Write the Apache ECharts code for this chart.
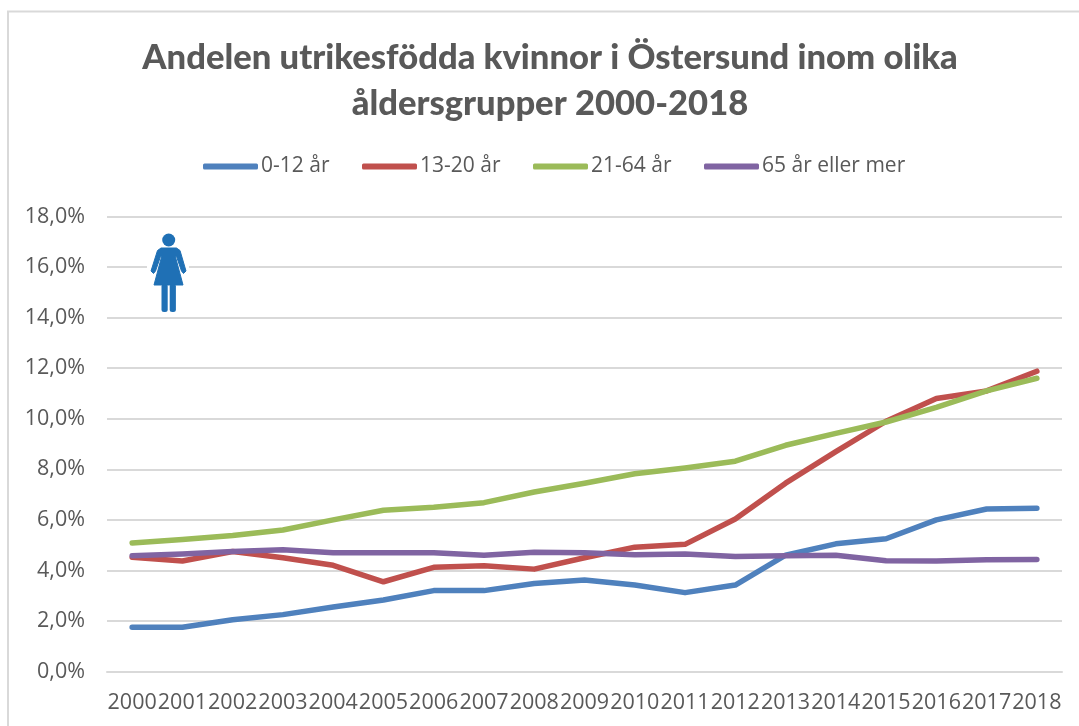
<!DOCTYPE html>
<html><head><meta charset="utf-8">
<style>html,body{margin:0;padding:0;background:#fff}#c{width:1079px;height:726px}</style>
<script src="https://cdn.jsdelivr.net/npm/echarts@6/dist/echarts.min.js"></script>
</head><body><div id="c"></div>
<script>
const years = ['2000','2001','2002','2003','2004','2005','2006','2007','2008','2009','2010','2011','2012','2013','2014','2015','2016','2017','2018'];
const age0to12 = [1.75,1.75,2.05,2.25,2.55,2.83,3.2,3.2,3.48,3.62,3.42,3.12,3.42,4.6,5.05,5.25,6.0,6.43,6.46];
const age13to20 = [4.52,4.37,4.75,4.5,4.2,3.55,4.12,4.18,4.05,4.5,4.92,5.03,6.03,7.45,8.7,9.9,10.8,11.1,11.88];
const age21to64 = [5.08,5.22,5.38,5.6,6.0,6.38,6.5,6.68,7.1,7.45,7.82,8.05,8.32,8.95,9.42,9.87,10.45,11.1,11.6];
const age65plus = [4.58,4.65,4.75,4.82,4.7,4.7,4.7,4.6,4.72,4.7,4.62,4.65,4.55,4.58,4.6,4.38,4.37,4.42,4.43];
const seriesNames = ['0-12 år','13-20 år','21-64 år','65 år eller mer'];
const seriesColors = ['#4f81bd','#c0504d','#9bbb59','#8064a2'];
const seriesData = [age0to12,age13to20,age21to64,age65plus];
const legendLefts = [203,362,533,704];
const labelFont = '"Open Sans", sans-serif';
const iconColor = '#1f70b5';
const chart = echarts.init(document.getElementById('c'),null,{renderer:'canvas'});
chart.setOption({
  animation:false,
  backgroundColor:'#fff',
  title:{text:'Andelen utrikesfödda kvinnor i Östersund inom olika\nåldersgrupper 2000-2018',left:545,textAlign:'center',top:30,
    textStyle:{fontFamily:'Lato',fontWeight:900,fontSize:34.6,lineHeight:46,color:'#595959'}},
  legend:seriesNames.map((n,i)=>({top:156,left:legendLefts[i],padding:0,itemWidth:55,itemHeight:6,symbolKeepAspect:false,
    icon:'roundRect',
    textStyle:{fontFamily:labelFont,fontSize:21,color:'#595959',padding:[0,0,0,-2]},
    data:[n]})),
  grid:{left:107,right:17,top:216.5,height:455,containLabel:false},
  xAxis:{type:'category',data:years,boundaryGap:true,
    axisLine:{show:true,lineStyle:{color:'#d9d9d9',width:2}},axisTick:{show:false},
    axisLabel:{fontFamily:labelFont,fontSize:21.5,color:'#595959',margin:20,interval:0}},
  yAxis:{type:'value',min:0,max:18,interval:2,
    axisLine:{show:false},axisTick:{show:false},
    splitLine:{lineStyle:{color:'#d9d9d9',width:2}},
    axisLabel:{fontFamily:labelFont,fontSize:21.5,color:'#595959',margin:22,verticalAlign:'middle',lineHeight:26,padding:[5,0,0,0],formatter:v=>v.toFixed(1).replace('.',',')+'%'}},
  series:seriesData.map((d,i)=>({name:seriesNames[i],type:'line',data:d,symbol:'none',smooth:false,
    lineStyle:{color:seriesColors[i],width:5.5,cap:'round',join:'round'},itemStyle:{color:seriesColors[i]}})),
  graphic:[
    {type:'rect',silent:true,shape:{x:8,y:11.5,width:1100,height:800},style:{fill:'none',stroke:'#d9d9d9',lineWidth:2},z:0},
    {type:'rect',silent:true,shape:{x:147,y:232,width:42,height:84},style:{fill:'#fff'},z:5},
    {type:'circle',silent:true,shape:{cx:168.7,cy:240,r:6.5},style:{fill:iconColor},z:6},
    {type:'polygon',silent:true,shape:{points:[[161,248],[176.5,248],[180,250.5],[186,271],[183.5,273.5],[181.5,271],[176.5,256.5],[175.5,257],[183,285],[154,285],[161.5,257],[160.5,256.5],[155.5,271],[153.5,273.5],[151,271],[157.5,250.5]]},style:{fill:iconColor,stroke:iconColor,lineJoin:'round',lineWidth:1},z:6},
    {type:'rect',silent:true,shape:{x:161.5,y:284,width:6.2,height:28,r:2.5},style:{fill:iconColor},z:6},
    {type:'rect',silent:true,shape:{x:169.7,y:284,width:6.2,height:28,r:2.5},style:{fill:iconColor},z:6}
  ]
});
</script></body></html>
